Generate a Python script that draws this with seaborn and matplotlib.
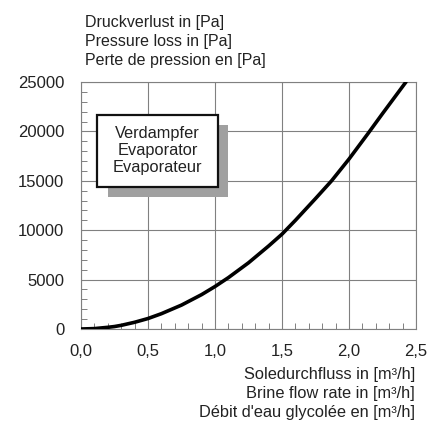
import pandas as pd
import seaborn as sns
import matplotlib.pyplot as plt
from matplotlib.ticker import MultipleLocator, FuncFormatter
from matplotlib.patches import Rectangle

# flow rate [m3/h] vs pressure loss [Pa]
flow = [0.0, 0.1, 0.2, 0.25, 0.3, 0.4, 0.5, 0.6, 0.75, 0.9, 1.0, 1.1, 1.25, 1.4,
        1.5, 1.6, 1.75, 1.87, 2.0, 2.14, 2.25, 2.425]
dp = [0, 40, 170, 250, 370, 680, 1060, 1550, 2420, 3480, 4300, 5200, 6700, 8400,
      9600, 11000, 13200, 15000, 17200, 19750, 21800, 25000]

y_title = ["Druckverlust in [Pa]", "Pressure loss in [Pa]", "Perte de pression en [Pa]"]
x_title = ["Soledurchfluss in [m³/h]", "Brine flow rate in [m³/h]",
           "Débit d'eau glycolée en [m³/h]"]
box_label = "Verdampfer\nEvaporator\nEvaporateur"

df = pd.DataFrame({"flow": flow, "dp": dp})

sns.set_style("white")
plt.rcParams['font.family'] = ['Liberation Sans', 'DejaVu Sans']
txt = "#222222"

fig = plt.figure(figsize=(4.3, 4.26), dpi=100)
ax = fig.add_axes([81 / 430, 97 / 426, 335 / 430, 247 / 426])

sns.lineplot(data=df, x="flow", y="dp", ax=ax, color="black", lw=2.6, zorder=6)

ax.set_xlim(0, 2.5)
ax.set_ylim(0, 25000)
ax.xaxis.set_major_locator(MultipleLocator(0.5))
ax.xaxis.set_minor_locator(MultipleLocator(0.1))
ax.yaxis.set_major_locator(MultipleLocator(5000))
ax.yaxis.set_minor_locator(MultipleLocator(1000))
ax.xaxis.set_major_formatter(FuncFormatter(lambda v, p: f"{v:.1f}".replace(".", ",")))
ax.grid(True, which="major", color="#808080", lw=0.8)
ax.tick_params(axis="y", which="major", length=0, labelsize=12, colors=txt, pad=12)
ax.tick_params(axis="x", which="major", length=0, labelsize=12, colors=txt, pad=11)
ax.tick_params(which="minor", direction="in", length=4, color="#808080", width=0.7,
               bottom=True, left=True)
for s in ax.spines.values():
    s.set_color("#808080")
    s.set_linewidth(0.8)
ax.set_xlabel("")
ax.set_ylabel("")

# label box with grey shadow
ax.add_patch(Rectangle((0.20, 13350), 0.90, 7250, facecolor="#a0a0a0", edgecolor="none",
                       zorder=3))
ax.add_patch(Rectangle((0.12, 14370), 0.90, 7290, facecolor="white", edgecolor="#111111",
                       lw=1.6, zorder=4))
ax.text(0.571, 18050, box_label, ha="center", va="center",
        fontsize=11.8, color=txt, zorder=5, linespacing=1.17)

for s, yp in zip(y_title, [23, 41.5, 60.5]):
    fig.text(85 / 430, 1 - yp / 426, s, ha="left", va="center", fontsize=11.5, color=txt)
for s, yp in zip(x_title, [375, 393.5, 412]):
    fig.text(415 / 430, 1 - yp / 426, s, ha="right", va="center", fontsize=11.8, color=txt)

plt.savefig("out.png", dpi=100)
